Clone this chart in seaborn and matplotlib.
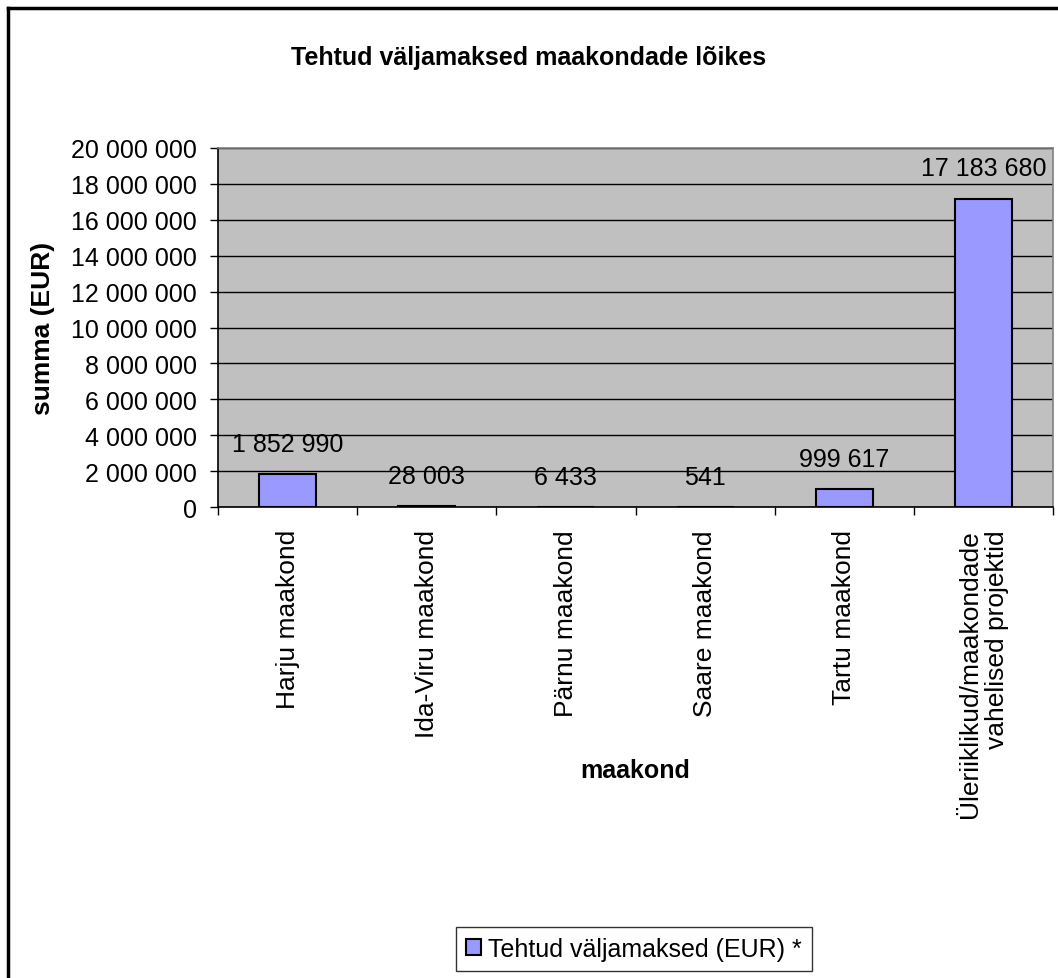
import matplotlib
matplotlib.use("Agg")
import matplotlib.pyplot as plt
import matplotlib.lines as mlines
import matplotlib.patches as mpatches
import numpy as np
import seaborn as sns

# Andmed

maakonnad = ["Harju maakond", "Ida-Viru maakond", "Pärnu maakond", "Saare maakond",
             "Tartu maakond", "Üleriiklikud/maakondade\nvahelised projektid"]
valjamaksed = [1852990, 28003, 6433, 541, 999617, 17183680]
y_ticks = list(range(0, 20000001, 2000000))

bar_color = "#9999FF"
bg_color = "#C0C0C0"

def tuhanded(v):
    return f"{v:,.0f}".replace(",", " ")

plt.rcParams['font.family'] = ['Liberation Sans', 'DejaVu Sans']

fig = plt.figure(figsize=(10.58, 9.79), dpi=100)
ax = fig.add_axes([218/1058, 1 - 508/979, (1053 - 218)/1058, (508 - 149)/979])
ax.set_facecolor(bg_color)
ax.set_axisbelow(True)

sns.barplot(x=maakonnad, y=valjamaksed, color=bar_color, width=0.41,
            edgecolor="black", linewidth=1.5, saturation=1, ax=ax)

ax.set_ylim(0, 20000000)
ax.set_xlim(-0.5, len(maakonnad) - 0.5)
ax.set_yticks(y_ticks)
ax.set_yticklabels([tuhanded(v) for v in y_ticks], fontsize=18)
ax.yaxis.grid(True, color="black", linewidth=1)
ax.xaxis.grid(False)

# x-telje märgid kategooriate vahel
ax.set_xticks(np.arange(len(maakonnad)))
ax.set_xticklabels(maakonnad, rotation=90, fontsize=19, va="top", ha="center",
                   multialignment="right")
ax.set_xticks(np.arange(-0.5, len(maakonnad)), minor=True)
ax.tick_params(axis="x", which="major", length=0, pad=16)
ax.tick_params(axis="x", which="minor", length=6, width=1, direction="out")
ax.tick_params(axis="y", length=6, width=1, direction="out", pad=9)

for side in ["left", "bottom"]:
    ax.spines[side].set_color("black")
    ax.spines[side].set_linewidth(1.2)
for side in ["top", "right"]:
    ax.spines[side].set_color("#808080")
    ax.spines[side].set_linewidth(1.2)

ax.bar_label(ax.containers[0], labels=[tuhanded(v) for v in valjamaksed],
             padding=13, fontsize=18)

ax.set_xlabel("maakond", fontsize=18, fontweight="bold", labelpad=0)
ax.xaxis.set_label_coords(0.5, -0.70)
ax.set_ylabel("summa (EUR)", fontsize=19, fontweight="bold")
ax.yaxis.set_label_coords(-0.195, 0.5)

fig.text(0.5, 1 - 58/979, "Tehtud väljamaksed maakondade lõikes", fontsize=18,
         fontweight="bold", ha="center", va="center")

handle = mpatches.Patch(facecolor=bar_color, edgecolor="black", linewidth=1.5)
fig.legend([handle], ["Tehtud väljamaksed (EUR) *"], loc="center",
           bbox_to_anchor=(634/1058, 1 - 950/979), frameon=True, fontsize=18,
           fancybox=False, edgecolor="black", handlelength=0.6, handleheight=0.6,
           handletextpad=0.3, borderpad=0.4)

# välimine raam
fig.add_artist(mlines.Line2D([8/1058, 8/1058], [0, 1 - 9/979], color="black", linewidth=2.5))
fig.add_artist(mlines.Line2D([8/1058, 1], [1 - 9/979, 1 - 9/979], color="black", linewidth=2.5))

fig.savefig("out.png", dpi=100)
